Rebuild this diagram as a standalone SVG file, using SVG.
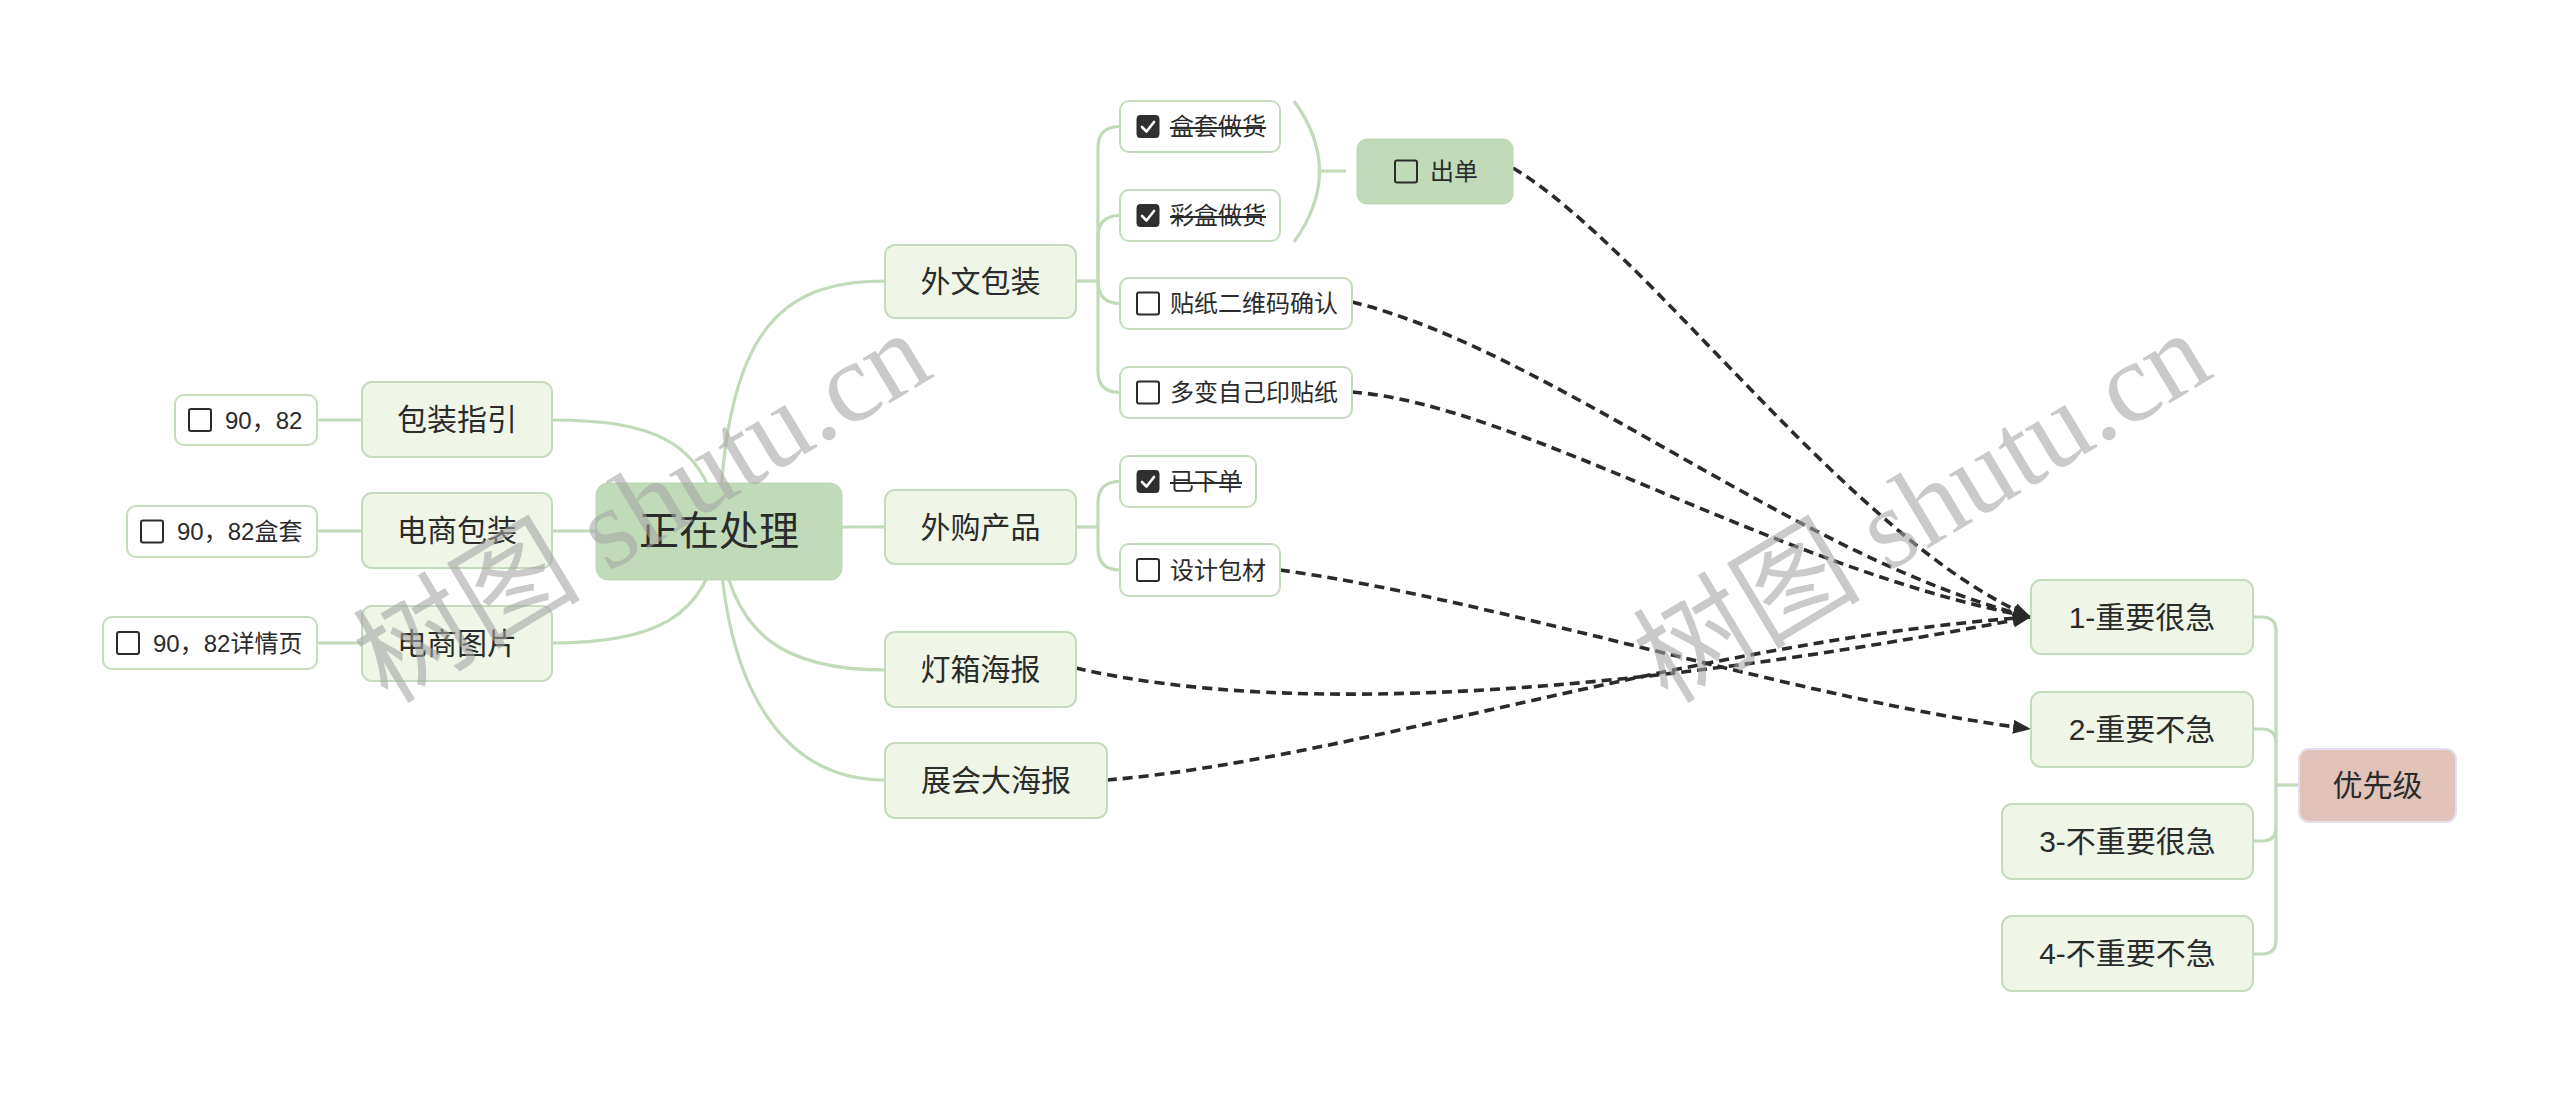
<svg xmlns="http://www.w3.org/2000/svg" width="2560" height="1093" viewBox="0 0 2560 1093">
<style>
text{font-family:'Liberation Sans','Noto Sans CJK SC',sans-serif;fill:#2b2b2b;dominant-baseline:central}
.wm{font-family:'Liberation Serif','Noto Sans CJK SC',serif;fill:#a4a4a4;fill-opacity:0.58;font-size:114px;dominant-baseline:auto}
.branch{fill:#eff6e8;stroke:#c4dbbd;stroke-width:2}
.leaf{fill:#ffffff;stroke:#c4dbbd;stroke-width:2}
.dark{fill:#c1dab9;stroke:#bcd5b4;stroke-width:1}
.prio{fill:#e2c3b9;stroke:#e3def0;stroke-width:2}
.t30{font-size:30px;text-anchor:middle}
.t40{font-size:40px;text-anchor:middle}
.t24{font-size:24px}
.cb{fill:#ffffff;stroke:#2b2b2b;stroke-width:2}
.cbx{fill:#2f2f2f;stroke:#2f2f2f;stroke-width:1}
.ck{fill:none;stroke:#ffffff;stroke-width:2.6;stroke-linecap:round;stroke-linejoin:round}
.strike{stroke:#2b2b2b;stroke-width:2}
.tree{fill:none;stroke:#c1dab9;stroke-width:3.2}
.rel{fill:none;stroke:#2a2a2a;stroke-width:3.6;stroke-dasharray:10 6}
</style>
<defs>
<marker id="arr" markerUnits="userSpaceOnUse" markerWidth="20" markerHeight="16" refX="18" refY="7" orient="auto">
<path d="M0,0 L18,7 L0,14 z" fill="#2a2a2a"/>
</marker>
</defs>
<rect x="0" y="0" width="2560" height="1093" fill="#ffffff"/>

<g id="connectors">
<path class="tree" d="M719,531 C725,330 780,281 885,281"/>
<path class="tree" d="M719,527 H885"/>
<path class="tree" d="M719,531 C730,640 790,670 885,670"/>
<path class="tree" d="M719,531 C725,700 790,780 885,780"/>
<path class="tree" d="M719,531 C710,440 650,420 552,420"/>
<path class="tree" d="M719,531 H552"/>
<path class="tree" d="M719,531 C710,620 650,643 552,643"/>
<path class="tree" d="M317,420 H362"/>
<path class="tree" d="M317,531 H362"/>
<path class="tree" d="M317,643 H362"/>
<path class="tree" d="M1076,281 H1098"/>
<path class="tree" d="M1098,281 V148 Q1098,126.5 1120,126.5"/>
<path class="tree" d="M1098,281 V237 Q1098,215.5 1120,215.5"/>
<path class="tree" d="M1098,281 Q1098,303.5 1120,303.5"/>
<path class="tree" d="M1098,281 V371 Q1098,392.5 1120,392.5"/>
<path class="tree" d="M1076,527 H1098"/>
<path class="tree" d="M1098,527 V503 Q1098,481.5 1120,481.5"/>
<path class="tree" d="M1098,527 V548 Q1098,570 1120,570"/>
<path class="tree" d="M1294,101 Q1345,171 1294,242"/>
<path class="tree" d="M1320,171 H1346"/>
<path class="tree" d="M2253,617 H2262 Q2276,617 2276,631 V940 Q2276,954 2262,954 H2253"/>
<path class="tree" d="M2253,729 H2262 Q2276,729 2276,743"/>
<path class="tree" d="M2253,841 H2262 Q2276,841 2276,827"/>
<path class="tree" d="M2276,785 H2299"/>
<path class="rel" marker-end="url(#arr)" d="M1513,168 C1650,250 1850,540 2031,617"/>
<path class="rel" marker-end="url(#arr)" d="M1352,302 C1550,350 1800,560 2031,617"/>
<path class="rel" marker-end="url(#arr)" d="M1352,392 C1520,405 1780,570 2031,617"/>
<path class="rel" marker-end="url(#arr)" d="M1280,570 C1500,600 1800,700 2031,729"/>
<path class="rel" marker-end="url(#arr)" d="M1076,668 C1300,720 1650,690 2031,617"/>
<path class="rel" marker-end="url(#arr)" d="M1107,780 C1350,760 1700,640 2031,617"/>
</g>

<g id="root">
<rect class="dark" x="596" y="483" width="246" height="97" rx="12"/>
<text class="t40" x="719" y="531">正在处理</text>
</g>

<g id="n-baozhuangzhiyin">
<rect class="branch" x="362" y="382" width="190" height="75" rx="10"/>
<text class="t30" x="457" y="419.5">包装指引</text>
</g>
<g id="n-dianshangbaozhuang">
<rect class="branch" x="362" y="493" width="190" height="75" rx="10"/>
<text class="t30" x="457" y="530.5">电商包装</text>
</g>
<g id="n-dianshangtupian">
<rect class="branch" x="362" y="606" width="190" height="75" rx="10"/>
<text class="t30" x="457" y="643.5">电商图片</text>
</g>

<g id="l-9082">
<rect class="leaf" x="175" y="395" width="142" height="50" rx="9"/>
<rect class="cb" x="189" y="409" width="22" height="22" rx="2"/>
<text class="t24" x="225" y="420">90，82</text>
</g>
<g id="l-9082hetao">
<rect class="leaf" x="127" y="506" width="190" height="51" rx="9"/>
<rect class="cb" x="141" y="520.5" width="22" height="22" rx="2"/>
<text class="t24" x="177" y="531.5">90，82盒套</text>
</g>
<g id="l-9082xiangqing">
<rect class="leaf" x="103" y="617" width="214" height="52" rx="9"/>
<rect class="cb" x="117" y="632" width="22" height="22" rx="2"/>
<text class="t24" x="153" y="643">90，82详情页</text>
</g>

<g id="n-waiwenbaozhuang">
<rect class="branch" x="885" y="245" width="191" height="73" rx="10"/>
<text class="t30" x="980.5" y="281.5">外文包装</text>
</g>
<g id="n-waigouchanpin">
<rect class="branch" x="885" y="490" width="191" height="74" rx="10"/>
<text class="t30" x="980.5" y="527">外购产品</text>
</g>
<g id="n-dengxianghaibao">
<rect class="branch" x="885" y="632" width="191" height="75" rx="10"/>
<text class="t30" x="980.5" y="669.5">灯箱海报</text>
</g>
<g id="n-zhanhuidahaibao">
<rect class="branch" x="885" y="743" width="222" height="75" rx="10"/>
<text class="t30" x="996" y="780.5">展会大海报</text>
</g>

<g id="l-hetaozuohuo">
<rect class="leaf" x="1120" y="101" width="160" height="51" rx="9"/>
<rect class="cbx" x="1137" y="115.5" width="22" height="22" rx="3"/>
<path class="ck" d="M1142,127 L1146.5,131.5 L1154,122"/>
<text class="t24" x="1170" y="126.5">盒套做货</text>
<line class="strike" x1="1170" y1="128" x2="1266" y2="128"/>
</g>
<g id="l-caihezuohuo">
<rect class="leaf" x="1120" y="190" width="160" height="51" rx="9"/>
<rect class="cbx" x="1137" y="204.5" width="22" height="22" rx="3"/>
<path class="ck" d="M1142,216 L1146.5,220.5 L1154,211"/>
<text class="t24" x="1170" y="215.5">彩盒做货</text>
<line class="strike" x1="1170" y1="217" x2="1266" y2="217"/>
</g>
<g id="l-tiezhi">
<rect class="leaf" x="1120" y="278" width="232" height="51" rx="9"/>
<rect class="cb" x="1137" y="292.5" width="22" height="22" rx="2"/>
<text class="t24" x="1170" y="303.5">贴纸二维码确认</text>
</g>
<g id="l-duobian">
<rect class="leaf" x="1120" y="367" width="232" height="51" rx="9"/>
<rect class="cb" x="1137" y="381.5" width="22" height="22" rx="2"/>
<text class="t24" x="1170" y="392.5">多变自己印贴纸</text>
</g>
<g id="l-yixiadan">
<rect class="leaf" x="1120" y="456" width="136" height="51" rx="9"/>
<rect class="cbx" x="1137" y="470.5" width="22" height="22" rx="3"/>
<path class="ck" d="M1142,482 L1146.5,486.5 L1154,477"/>
<text class="t24" x="1170" y="481.5">已下单</text>
<line class="strike" x1="1170" y1="483" x2="1242" y2="483"/>
</g>
<g id="l-shejibaocai">
<rect class="leaf" x="1120" y="544" width="160" height="52" rx="9"/>
<rect class="cb" x="1137" y="559" width="22" height="22" rx="2"/>
<text class="t24" x="1170" y="570">设计包材</text>
</g>

<g id="n-chudan">
<rect class="dark" x="1357" y="139" width="156" height="65" rx="10"/>
<rect class="cb" x="1395" y="160.5" width="22" height="22" rx="2" style="fill:none"/>
<text class="t24" x="1430" y="171.5">出单</text>
</g>

<g id="n-p1">
<rect class="branch" x="2031" y="580" width="222" height="74" rx="10"/>
<text class="t30" x="2142" y="617">1-重要很急</text>
</g>
<g id="n-p2">
<rect class="branch" x="2031" y="692" width="222" height="75" rx="10"/>
<text class="t30" x="2142" y="729.5">2-重要不急</text>
</g>
<g id="n-p3">
<rect class="branch" x="2002" y="804" width="251" height="75" rx="10"/>
<text class="t30" x="2127.5" y="841.5">3-不重要很急</text>
</g>
<g id="n-p4">
<rect class="branch" x="2002" y="916" width="251" height="75" rx="10"/>
<text class="t30" x="2127.5" y="953.5">4-不重要不急</text>
</g>
<g id="n-youxianji">
<rect class="prio" x="2299" y="749" width="157" height="73" rx="10"/>
<text class="t30" x="2377.5" y="785.5">优先级</text>
</g>

<g id="watermarks">
<text class="wm" x="0" y="0" text-anchor="middle" transform="translate(662,540) rotate(-31)">树图 shutu.cn</text>
<text class="wm" x="0" y="0" text-anchor="middle" transform="translate(1942,540) rotate(-31)">树图 shutu.cn</text>
</g>
</svg>
